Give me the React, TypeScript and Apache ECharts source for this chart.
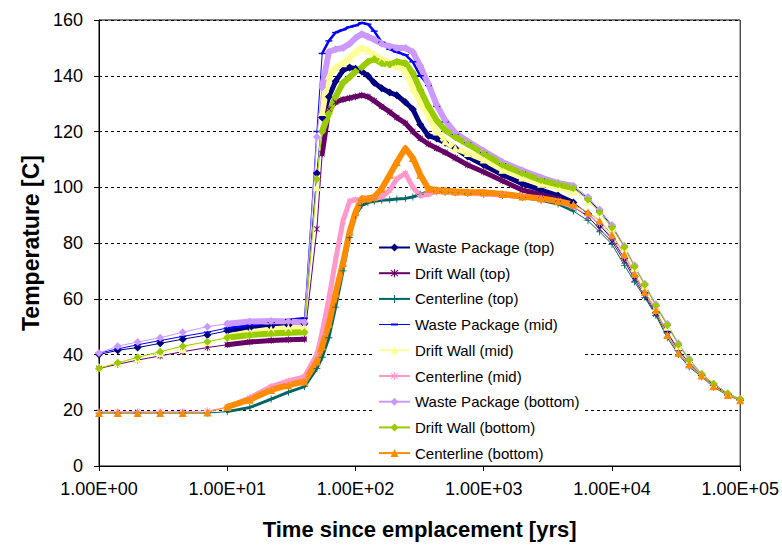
import { useEffect, useRef } from "react";
import * as echarts from "echarts";

// Time since emplacement [yrs]
const TIME = [
  1, 1.4, 2, 3, 4.5, 7, 10, 15, 22, 30, 40,
  50, 55, 62, 70, 80, 90, 100, 112, 125, 140,
  160, 185, 210, 245, 280, 320, 370, 430, 500, 600,
  750, 1000, 1400, 2000, 2800, 3800, 5000, 6500, 8000, 10000,
  12500, 15000, 18000, 22000, 27000, 33000, 40000, 50000, 62000, 80000, 100000,
];

const SERIES_NAMES = [
  "Waste Package (top)",
  "Drift Wall (top)",
  "Centerline (top)",
  "Waste Package (mid)",
  "Drift Wall (mid)",
  "Centerline (mid)",
  "Waste Package (bottom)",
  "Drift Wall (bottom)",
  "Centerline (bottom)",
];

const WP_TOP = [
  40, 41.5, 42.5, 44, 45.5, 47, 48.5, 49.5, 50, 50.5, 51,
  105, 125, 132.5, 138, 142, 143, 142.5, 141.5, 140, 137.5,
  135.5, 134, 133, 130.5, 128, 122.5, 118.5, 117.5, 116, 114,
  111, 108, 104.5, 101.3, 99, 97, 94.5, 90.5, 86.5, 81.5,
  74.5, 68, 62, 55, 48, 41.5, 37, 32.5, 29, 25.8, 23.8,
];
const DW_TOP = [
  35, 36.5, 38, 39.5, 41, 42.5, 43.5, 44.5, 45, 45.3, 45.5,
  85, 112, 128, 130.5, 131.5, 132, 132.5, 133, 132.5, 131,
  129, 127, 125, 123, 120, 117.5, 115.5, 114, 112.5, 110.5,
  108, 105.5, 102.3, 99, 97.3, 95.8, 93, 89.5, 85, 80.5,
  73.5, 67, 61, 54.5, 47, 40.5, 36, 32.3, 28.6, 25.5, 23.6,
];
const CL_TOP = [
  19, 19, 19, 19, 19, 19, 19.5, 21, 24, 26.5, 28.5,
  35, 39, 46, 57, 70, 82, 90, 93.5, 94.5, 95,
  95.3, 95.5, 95.8, 96, 96.5, 97.5, 98.3, 98.4, 98.2, 98,
  97.8, 97.5, 97, 96.3, 95.3, 94, 91.5, 88, 84, 79.5,
  72, 66, 60.5, 54, 46, 40, 35.5, 32, 28.3, 25.3, 23.5,
];
const WP_MID = [
  40.5, 42, 43.5, 45, 46.5, 48, 49.5, 50.5, 51.5, 52.5, 53,
  120, 148, 152.5, 155.5, 156.5, 157.5, 158, 159, 158.5, 156,
  152, 149.5, 148.5, 147.5, 145, 140, 136.5, 129, 123.5, 119,
  116, 112.5, 108.5, 105.5, 103, 101, 100, 96, 91.5, 86,
  78.5, 71.5, 65, 57.5, 50.5, 43.5, 38, 33, 29.5, 26, 24,
];
const DW_MID = [
  35.5, 37, 38.5, 40.5, 42, 44.5, 46.5, 48, 49, 49.5, 50,
  100, 127, 140, 143, 144.5, 146.5, 148.5, 150, 149, 147.5,
  146, 144.5, 143.5, 142, 135.5, 130.5, 125.5, 120, 116.5, 114,
  112.3, 110, 106.3, 103.5, 101.3, 100, 98.5, 95, 91, 85.5,
  78, 71, 64.5, 57, 50, 43, 38, 33, 29.5, 26, 24,
];
const CL_MID = [
  19.5, 19.5, 19.5, 19.5, 19.5, 19.8, 21, 24.5, 28.5, 30.5, 32,
  40, 48, 60, 74, 88, 95, 95.5, 95.5, 95.7, 96,
  96.5, 99, 103, 105, 100, 97, 97.5, 98.5, 98.3, 98,
  97.8, 97.6, 97.2, 96.6, 96, 95, 93, 90, 87, 82,
  75, 68.5, 62, 55.5, 47, 40.5, 36, 32.3, 28.6, 25.5, 23.6,
];
const WP_BOT = [
  40.5, 43, 44.5, 46, 48, 50, 51, 51.8, 52, 51.8, 51.5,
  118, 136, 148.5, 149.5, 150, 151.5, 153.5, 155, 154, 153,
  151.5, 150.5, 150, 150, 148.5, 143.5, 137, 129.5, 124, 119.5,
  116.5, 113, 109, 106, 103.5, 101.5, 100.5, 96.5, 92, 86.5,
  79, 72, 65.4, 58, 51, 44, 38.5, 33, 29.5, 26, 24,
];
const DW_BOT = [
  35, 37, 39, 41, 43, 44.6, 46, 47, 47.5, 47.8, 48,
  103, 120, 126.5, 132.5, 137.5, 139.5, 141.5, 143, 145, 146,
  144.5, 144, 145, 144.5, 141, 135, 129, 124, 120.5, 118,
  115.5, 112, 108, 105, 102.5, 101, 99.7, 95.5, 91, 85.5,
  78.5, 71.5, 65, 57.5, 50.5, 43.5, 38, 33, 29.5, 26, 24,
];
const CL_BOT = [
  19, 19, 19, 19, 19, 19.2, 21.2, 23.8, 27.3, 29, 30.3,
  37.5, 43, 51, 62, 73, 84, 91, 96, 96, 96.5,
  99.5, 104.5, 109, 114, 110.5, 104.5, 99.5, 99, 98.8, 98.5,
  98.3, 98.2, 97.6, 96.7, 96, 95, 93.8, 91, 88, 83,
  76, 69, 62.5, 56, 47, 40.5, 36.5, 32.5, 28.6, 25.5, 23.6,
];

const VALUES = [WP_TOP, DW_TOP, CL_TOP, WP_MID, DW_MID, CL_MID, WP_BOT, DW_BOT, CL_BOT];

const FONT = 'Arial, "Liberation Sans", sans-serif';
const ASTERISK =
  "path://M4.4,0H5.6V10H4.4Z M0.8,1.6L1.6,0.8L9.2,8.4L8.4,9.2Z M8.4,0.8L9.2,1.6L1.6,9.2L0.8,8.4Z";
const PLUS = "path://M4.4,0H5.6V10H4.4Z M0,4.4H10V5.6H0Z";
const DASH = "path://M0,4H10V6H0Z";
// legend icon: thin line with a short dash marker, padded to a 31x10 box
const DASH_ICON =
  "path://M0,0h0.01v0.01h-0.01Z M0,4.5H31V5.5H0Z M12,4H19V6H12Z M30.99,9.99h0.01v0.01h-0.01Z";

const STYLES = [
  { color: "#000080", symbol: "diamond", size: 8, band: 5, centerline: false },
  { color: "#660066", symbol: ASTERISK, size: 7, band: 5, centerline: false },
  { color: "#006666", symbol: PLUS, size: 7, band: 3, centerline: true },
  { color: "#0000ff", symbol: DASH, size: 7, band: 2.5, centerline: false },
  { color: "#ffff99", symbol: "triangle", size: 8, band: 6, centerline: false },
  { color: "#ff99cc", symbol: ASTERISK, size: 7, band: 5, centerline: true },
  { color: "#cc99ff", symbol: "diamond", size: 8, band: 6, centerline: false },
  { color: "#99cc00", symbol: "diamond", size: 8, band: 6, centerline: false },
  { color: "#ff8c00", symbol: "triangle", size: 8, band: 6, centerline: true },
];

function fmtExp(v: number) {
  const e = Math.round(Math.log10(v));
  const m = v / Math.pow(10, e);
  return `${m.toFixed(2)}E${e >= 0 ? "+" : "-"}${String(Math.abs(e)).padStart(2, "0")}`;
}

export default function App() {
  const ref = useRef<HTMLDivElement>(null);
  useEffect(() => {
    if (!ref.current) return;
    const chart = echarts.init(ref.current, undefined, { renderer: "svg" });
    const series: any[] = [];
    SERIES_NAMES.forEach((name, k) => {
      const st = STYLES[k];
      const vals = VALUES[k];
      const inBand = (t: number) =>
        st.centerline ? t >= 8 && t <= 5000 : (t >= 8 && t <= 40) || (t >= 55 && t <= 5000);
      series.push({
        name: name + " band",
        type: "line",
        silent: true,
        symbol: "none",
        connectNulls: false,
        lineStyle: { color: st.color, width: st.band, join: "round", cap: "round" },
        itemStyle: { color: st.color },
        data: TIME.map((t, i) => (inBand(t) ? [t, vals[i]] : [t, "-"])),
      });
      series.push({
        name,
        type: "line",
        symbol: st.symbol,
        symbolSize: st.size,
        symbolKeepAspect: true,
        showAllSymbol: true,
        lineStyle: { color: st.color, width: 1 },
        itemStyle: { color: st.color },
        emphasis: { disabled: true },
        data: TIME.map((t, i) => [t, vals[i]]),
      });
    });
    chart.setOption({
      animation: false,
      grid: {
        left: 99,
        right: 39,
        top: 20,
        bottom: 77,
        show: true,
        borderColor: "#000",
        borderWidth: 1,
        backgroundColor: "transparent",
      },
      legend: {
        orient: "vertical",
        left: 374,
        top: 237,
        padding: [3, 4, 3, 4],
        itemGap: 10.7,
        itemWidth: 31,
        itemHeight: 10,
        symbolKeepAspect: true,
        backgroundColor: "#fff",
        textStyle: { fontSize: 15, fontFamily: FONT, color: "#000" },
        data: SERIES_NAMES.map((n) =>
          n === "Waste Package (mid)" ? { name: n, icon: DASH_ICON } : n
        ),
      },
      xAxis: {
        type: "log",
        logBase: 10,
        min: 1,
        max: 100000,
        axisLine: { lineStyle: { color: "#000", width: 1 } },
        axisTick: { show: true, length: 5, lineStyle: { color: "#000" } },
        minorTick: { show: false },
        splitLine: { show: false },
        axisLabel: { formatter: fmtExp, fontSize: 18, color: "#000", fontFamily: FONT, margin: 14 },
        name: "Time since emplacement [yrs]",
        nameLocation: "middle",
        nameGap: 52,
        nameTextStyle: { fontSize: 22, fontWeight: "bold", color: "#000", fontFamily: FONT },
      },
      yAxis: {
        type: "value",
        min: 0,
        max: 160,
        interval: 20,
        axisLine: { show: true, lineStyle: { color: "#000", width: 1 } },
        axisTick: { show: true, length: 5, lineStyle: { color: "#000" } },
        splitLine: { show: true, lineStyle: { color: "#000", type: [3, 3], width: 1 } },
        axisLabel: { fontSize: 18, color: "#000", fontFamily: FONT, margin: 16 },
        name: "Temperature [C]",
        nameLocation: "middle",
        nameRotate: 90,
        nameGap: 55,
        nameTextStyle: { fontSize: 23, fontWeight: "bold", color: "#000", fontFamily: FONT },
      },
      series,
    });
    return () => chart.dispose();
  }, []);
  return (
    <div
      ref={ref}
      style={{ position: "fixed", left: 0, top: 0, width: 782, height: 545, background: "#fff" }}
    />
  );
}
